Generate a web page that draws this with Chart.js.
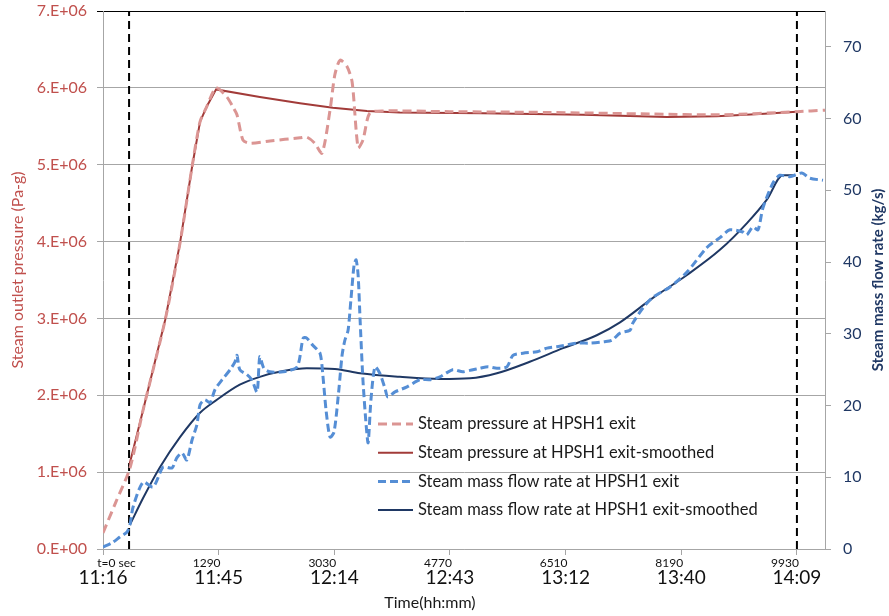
<!DOCTYPE html>
<html><head><meta charset="utf-8">
<script src="https://cdn.jsdelivr.net/npm/chart.js@4.4.1/dist/chart.umd.min.js"></script>
<style>html,body{margin:0;padding:0;background:#fff;}#c{display:block;}</style>
</head><body>
<canvas id="c" width="889" height="616"></canvas>
<script>
// ---------- DATA ----------
// x values: elapsed minutes after 11:16
const tickMinutes = [0, 28.83, 57.67, 86.5, 115.33, 144.17, 173];
const secTickLabels = ['t=0 sec', '1290', '3030', '4770', '6510', '8190', '9930'];
const timeTickLabels = ['11:16', '11:45', '12:14', '12:43', '13:12', '13:40', '14:09'];
const pressureTicks = [0, 1e6, 2e6, 3e6, 4e6, 5e6, 6e6, 7e6];
const pressureTickLabels = ['0.E+00', '1.E+06', '2.E+06', '3.E+06', '4.E+06', '5.E+06', '6.E+06', '7.E+06'];
const flowTicks = [0, 10, 20, 30, 40, 50, 60, 70];
const flowTickLabels = ['0', '10', '20', '30', '40', '50', '60', '70'];
const markerMinutes = [6.5, 173];

const seriesLabels = [
  'Steam pressure at HPSH1 exit',
  'Steam pressure at HPSH1 exit-smoothed',
  'Steam mass flow rate at HPSH1 exit',
  'Steam mass flow rate at HPSH1 exit-smoothed'
];

// pressure (MPa-g -> Pa-g)
const pressureRawMin = [0,3.2,6.7,10.0,15.5,19.2,22.2,24.2,25.9,28.2,30.9,32.4,33.4,34.9,36.6,41.6,49.1,50.8,52.8,54.6,56.6,57.8,59.1,60.8,62.1,63.6,64.8,66.5,69.8,86.5,111.4,136.3,153.8,173.0,180];
const pressureRaw = [0.21,0.61,1.05,1.81,2.98,3.98,4.97,5.56,5.76,6.00,5.88,5.75,5.65,5.32,5.28,5.31,5.35,5.36,5.28,5.15,5.71,6.17,6.36,6.28,6.08,5.22,5.32,5.67,5.70,5.69,5.68,5.66,5.65,5.69,5.71];
const pressureSmoothMin = [6.6,10.0,15.5,19.2,22.2,24.2,25.9,28.2,39.1,49.1,57.3,65.8,74.0,94.7,119.6,140.6,153.0,163.8,173.0];
const pressureSmooth = [1.10,1.81,2.98,3.98,4.97,5.56,5.76,5.98,5.88,5.80,5.74,5.70,5.68,5.67,5.65,5.62,5.63,5.66,5.69];

// mass flow (kg/s)
const flowRawMin = [0,2.2,4.2,6.0,6.7,7.5,10.0,12.5,15.0,17.2,18.4,19.7,20.9,22.2,23.4,24.2,25.4,26.7,27.9,29.7,31.7,32.9,33.4,34.1,35.9,37.1,38.4,39.1,40.1,41.6,44.9,48.4,49.9,50.8,52.3,54.1,54.8,55.6,56.6,57.6,58.8,59.6,60.3,61.1,61.8,62.6,63.1,63.6,64.1,64.8,65.6,66.1,66.8,67.8,69.0,70.3,71.0,72.8,75.8,79.0,81.5,84.0,87.2,89.7,92.2,94.0,96.0,98.2,100.7,102.2,104.7,108.2,110.7,113.2,118.1,121.4,125.1,126.9,128.9,131.4,132.1,134.6,137.1,141.3,145.6,150.5,153.8,156.3,159.5,160.5,162.0,163.3,164.5,167.0,168.7,171.2,174.2,176.2,179.5];
const flowRaw = [0.28,0.84,1.67,2.37,3.35,5.86,9.34,8.64,11.43,11.29,12.7,13.38,12.41,15.2,17.3,20.1,20.8,20.4,22.2,23.6,25.0,26.1,27.0,25.0,24.3,23.6,21.9,26.8,25.2,24.7,24.7,25.4,29.4,29.4,28.4,27.3,24.3,19.4,15.6,16.3,22.2,27.0,29.1,30.5,34.7,39.6,40.3,38.2,31.9,23.6,17.3,14.8,20.8,25.4,24.5,22.4,21.2,21.9,22.6,23.6,23.6,24.0,25.0,24.7,25.0,25.2,25.4,25.2,25.4,27.0,27.3,27.5,28.0,28.2,28.7,28.7,28.9,29.1,30.1,30.5,31.5,33.6,35.1,36.5,38.6,42.0,43.4,44.5,44.2,43.8,44.9,44.5,47.5,51.0,52.1,51.9,52.4,51.7,51.4];
const flowSmoothMin = [6.7,10.0,14.2,19.2,24.2,28.4,34.1,39.1,44.9,50.8,57.8,64.1,74.0,84.0,91.5,98.2,106.4,114.7,123.1,128.9,137.1,145.6,153.8,160.5,165.5,169.5,172.5];
const flowSmooth = [3.35,7.1,11.4,15.6,19.0,20.8,22.9,24.0,24.8,25.2,25.1,24.5,24.0,23.7,23.8,24.5,26.1,28.0,29.8,31.6,35.0,38.2,41.7,45.4,48.7,52.1,52.1];

// ---------- BUILD ----------
function pts(xs, ys, k) { return xs.map((x, i) => ({ x: x, y: ys[i] * k })); }
const markerPts = [];
markerMinutes.forEach((m, i) => {
  if (i > 0) markerPts.push({ x: m, y: null });
  markerPts.push({ x: m, y: 0 }, { x: m, y: 7e6 });
});

Chart.defaults.font.family = 'Lato';
const GRID = '#a6a6a6';
const EM = '\u2003', EN = '\u2002';
function noPad(s) { s.paddingTop = 0; s.paddingBottom = 0; s.paddingLeft = 0; s.paddingRight = 0; }

const legendPlugin = {
  id: 'insideLegend',
  afterDraw(chart) {
    const ctx = chart.ctx, ca = chart.chartArea;
    ctx.save();
    ctx.font = '16.5px Lato';
    ctx.textBaseline = 'middle';
    ctx.textAlign = 'left';
    chart.data.datasets.filter(d => d.inLegend).forEach((d, i) => {
      const y = ca.top + 413 + i * 28.7;
      const x0 = ca.left + 275;
      ctx.beginPath();
      ctx.strokeStyle = d.borderColor;
      ctx.lineWidth = d.borderWidth;
      ctx.setLineDash(d.borderDash || []);
      ctx.moveTo(x0, y); ctx.lineTo(x0 + 35, y); ctx.stroke();
      ctx.setLineDash([]);
      ctx.fillStyle = '#1a1a1a';
      ctx.fillText(d.label, x0 + 40, y);
    });
    // right axis title (reads bottom-to-top)
    const s = chart.scales.y1;
    ctx.translate(s.right - 11, (ca.top + ca.bottom) / 2);
    ctx.rotate(-Math.PI / 2);
    ctx.textAlign = 'center';
    ctx.font = 'bold 15px Lato';
    ctx.fillStyle = '#203864';
    ctx.fillText('Steam mass flow rate (kg/s)', 0, 0);
    ctx.restore();
  }
};

new Chart(document.getElementById('c'), {
  type: 'line',
  data: {
    datasets: [
      { label: seriesLabels[0], inLegend: true, data: pts(pressureRawMin, pressureRaw, 1e6), yAxisID: 'y',
        borderColor: '#DB9593', borderWidth: 3, borderDash: [9, 5], tension: 0.25, pointRadius: 0 },
      { label: seriesLabels[1], inLegend: true, data: pts(pressureSmoothMin, pressureSmooth, 1e6), yAxisID: 'y',
        borderColor: '#A23B39', borderWidth: 2, tension: 0, pointRadius: 0 },
      { label: seriesLabels[2], inLegend: true, data: pts(flowRawMin, flowRaw, 1), yAxisID: 'y1',
        borderColor: '#558ED5', borderWidth: 3, borderDash: [8, 4], tension: 0.25, pointRadius: 0 },
      { label: seriesLabels[3], inLegend: true, data: pts(flowSmoothMin, flowSmooth, 1), yAxisID: 'y1',
        borderColor: '#1F3864', borderWidth: 2, cubicInterpolationMode: 'monotone', pointRadius: 0 },
      { label: 'markers', inLegend: false, data: markerPts, yAxisID: 'y', spanGaps: false,
        borderColor: '#000', borderWidth: 2, borderDash: [8, 5], tension: 0, pointRadius: 0 }
    ]
  },
  options: {
    responsive: false,
    animation: false,
    devicePixelRatio: 1,
    layout: { padding: { top: 11, left: 0, right: 0, bottom: 0 } },
    plugins: { legend: { display: false }, tooltip: { enabled: false } },
    scales: {
      x: {
        type: 'linear', position: 'bottom', weight: 2, min: 0, max: 180,
        afterBuildTicks: s => { s.ticks = tickMinutes.map(v => ({ value: v })); },
        afterFit: s => { s.height = 47; noPad(s); },
        grid: { display: false, drawTicks: false },
        border: { display: false },
        ticks: { autoSkip: false, maxRotation: 0, padding: 0, color: '#111',
          font: { size: 19, lineHeight: 0.9 }, callback: (v, i) => timeTickLabels[i] },
        title: { display: true, text: 'Time(hh:mm)' + EM + EM + EM + EM + EM + EN, color: '#1a1a1a',
          font: { size: 16 }, padding: { top: 0, bottom: 4 } }
      },
      xs: {
        type: 'linear', position: 'bottom', weight: 1, min: 0, max: 180,
        afterBuildTicks: s => { s.ticks = tickMinutes.map(v => ({ value: v })); },
        afterFit: s => { s.height = 20; noPad(s); },
        grid: { display: true, drawOnChartArea: false, drawTicks: true, tickLength: 6, color: GRID },
        border: { display: true, color: GRID },
        ticks: { autoSkip: false, maxRotation: 0, padding: 1, color: '#111', font: { size: 12 },
          callback: (v, i) => i === 0 ? (EM + EM + EM + secTickLabels[i]) : (secTickLabels[i] + EM + EM + EN) }
      },
      y: {
        type: 'linear', position: 'left', min: 0, max: 7e6,
        afterBuildTicks: s => { s.ticks = pressureTicks.map(v => ({ value: v })); },
        afterFit: s => { s.width = 103; noPad(s); },
        grid: { color: c => (c.tick && c.tick.value === 7e6) ? '#000' : GRID, tickLength: 6, lineWidth: 1 },
        border: { color: GRID },
        ticks: { padding: 10, color: '#C0504D', font: { size: 16 }, callback: (v, i) => pressureTickLabels[i] },
        title: { display: true, text: EM + EN + 'Steam outlet pressure (Pa-g)', color: '#C0504D',
          font: { size: 16 }, padding: { top: 8, bottom: 0 } }
      },
      y1: {
        type: 'linear', position: 'right', min: 0, max: 75,
        afterBuildTicks: s => { s.ticks = flowTicks.map(v => ({ value: v })); },
        afterFit: s => { s.width = 64; noPad(s); },
        grid: { drawOnChartArea: false, tickLength: 6, color: GRID },
        border: { color: GRID },
        ticks: { padding: 12, color: '#203864', font: { size: 16 }, callback: (v, i) => flowTickLabels[i] }
      }
    }
  },
  plugins: [legendPlugin]
});
</script>
</body></html>
